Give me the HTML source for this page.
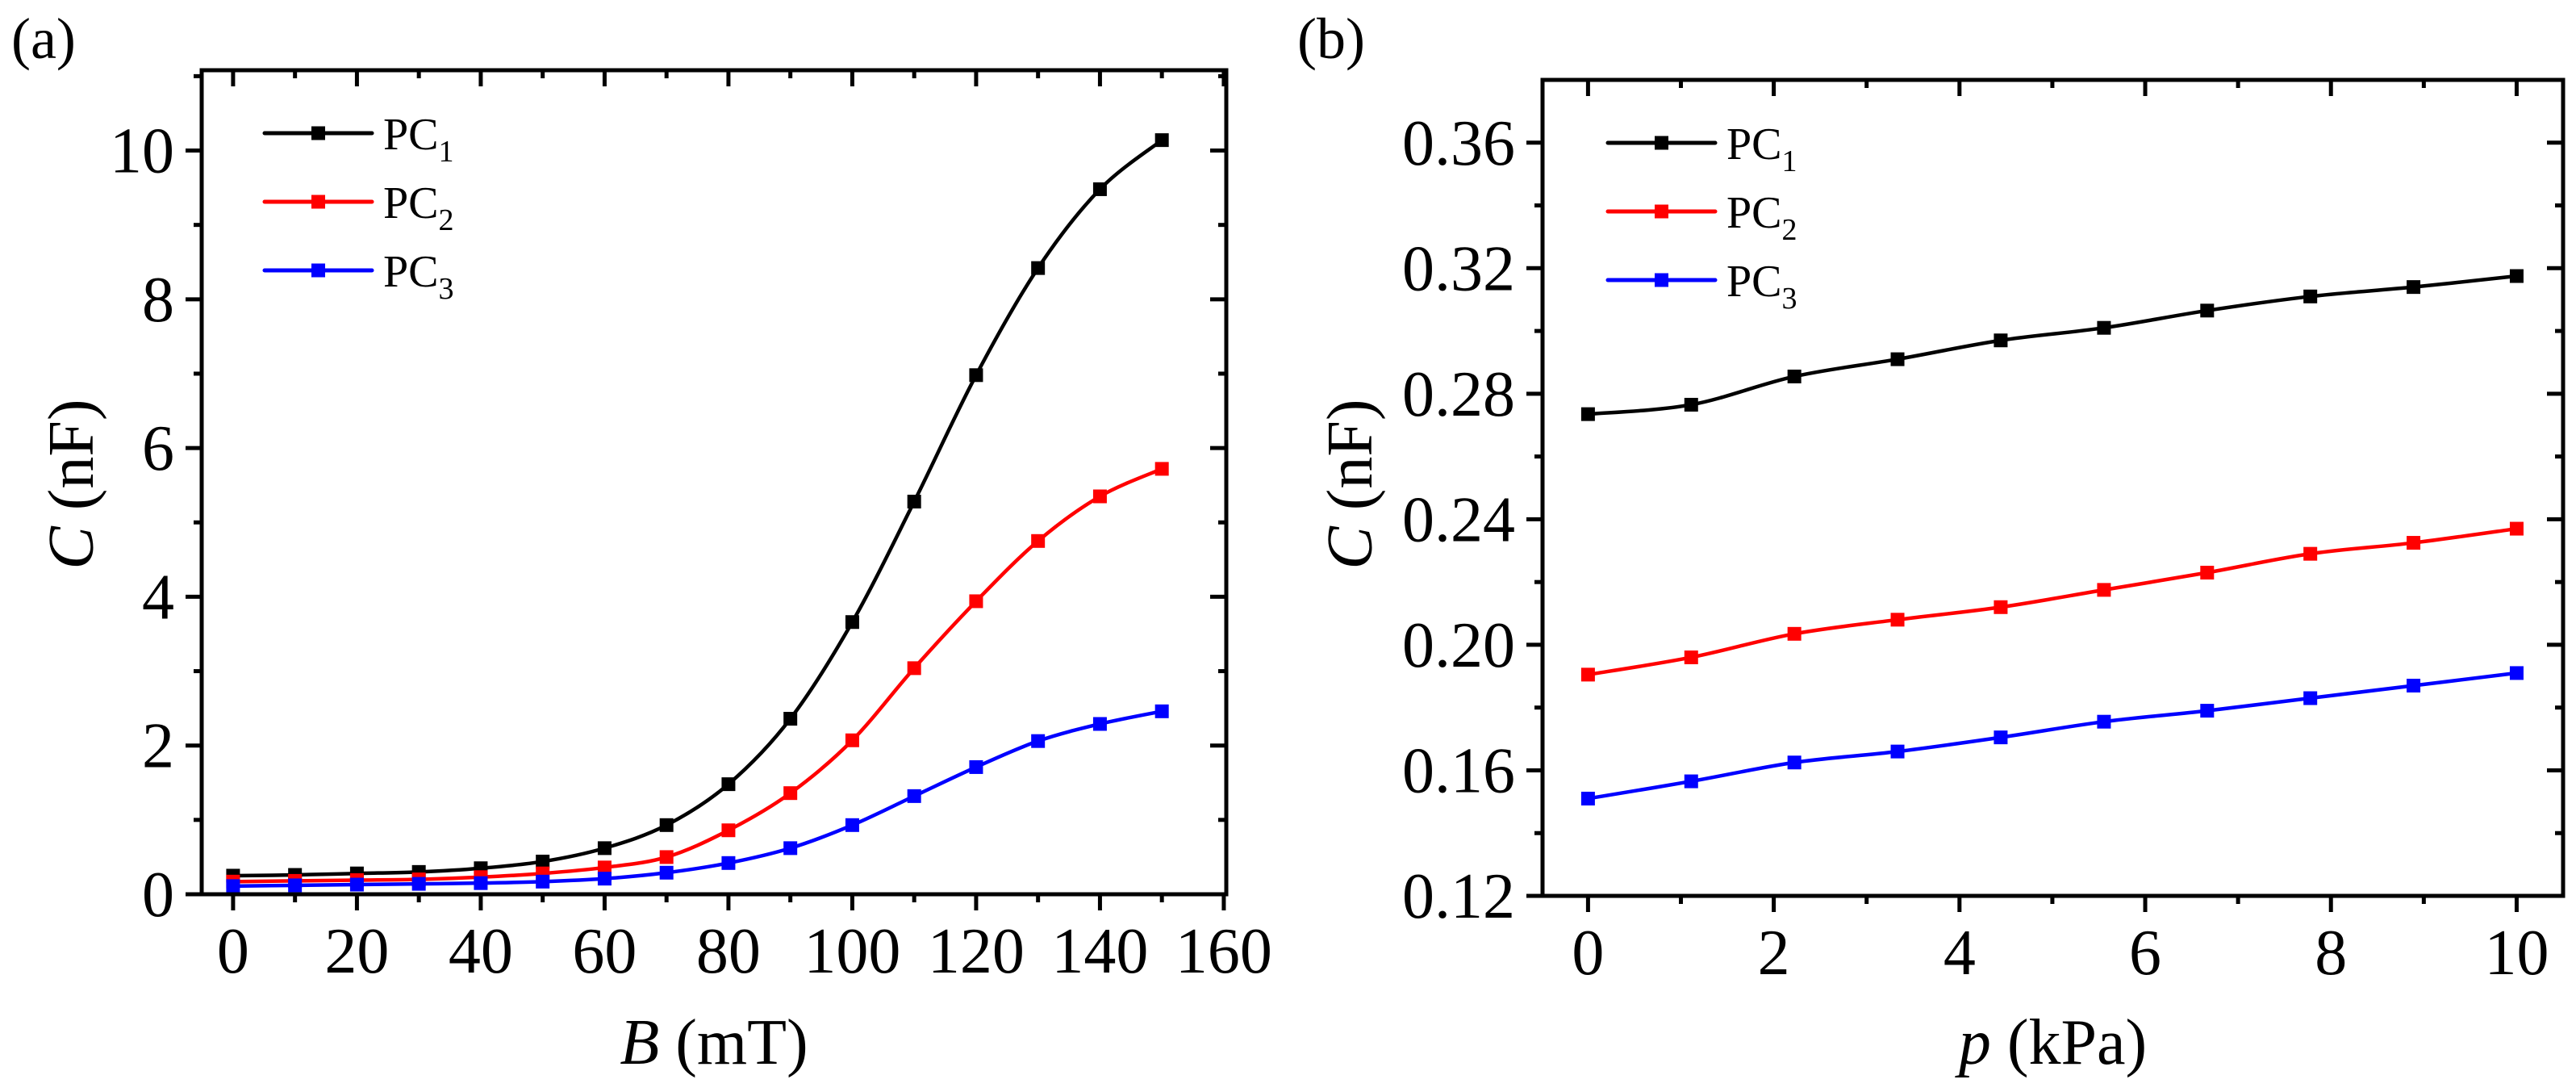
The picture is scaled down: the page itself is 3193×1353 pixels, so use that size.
<!DOCTYPE html>
<html><head><meta charset="utf-8">
<style>
html,body{margin:0;padding:0;background:#fff;}
svg{display:block;font-family:"Liberation Serif",serif;}
</style></head>
<body>
<svg id="fig" width="3193" height="1353" viewBox="0 0 3193 1353" xmlns="http://www.w3.org/2000/svg"></svg>
<script>
// Panel (a) data
const bCategories = [0,10,20,30,40,50,60,70,80,90,100,110,120,130,140,150];
const aPC1 = [0.25,0.26,0.28,0.30,0.35,0.44,0.62,0.93,1.48,2.36,3.66,5.28,6.98,8.42,9.48,10.14];
const aPC2 = [0.17,0.18,0.19,0.20,0.23,0.28,0.36,0.50,0.86,1.36,2.07,3.04,3.94,4.75,5.35,5.72];
const aPC3 = [0.11,0.12,0.13,0.14,0.15,0.17,0.21,0.29,0.42,0.62,0.93,1.32,1.71,2.06,2.29,2.46];
const aXTicks = [0,20,40,60,80,100,120,140,160];
const aYTicks = [0,2,4,6,8,10];
// Panel (b) data
const pCategories = [0,1.111,2.222,3.333,4.444,5.556,6.667,7.778,8.889,10];
const bPC1 = [0.2735,0.2765,0.2855,0.291,0.297,0.301,0.3065,0.311,0.314,0.3175];
const bPC2 = [0.1905,0.196,0.2035,0.208,0.212,0.2175,0.223,0.229,0.2325,0.237];
const bPC3 = [0.151,0.1565,0.1625,0.166,0.1705,0.1755,0.179,0.183,0.187,0.191];
const bXTicks = [0,2,4,6,8,10];
const bYTicks = [0.12,0.16,0.20,0.24,0.28,0.32,0.36];
const bYLabels = ["0.12","0.16","0.20","0.24","0.28","0.32","0.36"];
const seriesNames = ["PC1","PC2","PC3"];
const seriesColors = ["#000000","#ff0000","#0000ff"];

const NS="http://www.w3.org/2000/svg";
const svg=document.getElementById('fig');
function mk(tag,attrs,parent){const e=document.createElementNS(NS,tag);for(const k in attrs)e.setAttribute(k,attrs[k]);(parent||svg).appendChild(e);return e;}

function spline(pts){
  let d=`M${pts[0][0]},${pts[0][1]}`;
  for(let i=0;i<pts.length-1;i++){
    const p0=pts[Math.max(0,i-1)],p1=pts[i],p2=pts[i+1],p3=pts[Math.min(pts.length-1,i+2)];
    const c1=[p1[0]+(p2[0]-p0[0])/6,p1[1]+(p2[1]-p0[1])/6];
    const c2=[p2[0]-(p3[0]-p1[0])/6,p2[1]-(p3[1]-p1[1])/6];
    d+=` C${c1[0]},${c1[1]} ${c2[0]},${c2[1]} ${p2[0]},${p2[1]}`;
  }
  return d;
}

function panel(cfg){
  const {L,R,T,B,x0,x1,y0,y1}=cfg;
  const sx=v=>L+(v-x0)/(x1-x0)*(R-L);
  const sy=v=>B-(v-y0)/(y1-y0)*(B-T);
  const g=mk('g',{});
  
  
  // series
  cfg.series.forEach((s,si)=>{
    const pts=cfg.xs.map((x,i)=>[sx(x),sy(s[i])]);
    const p=mk('path',{d:spline(pts),fill:'none',stroke:seriesColors[si],'stroke-width':4.5,'stroke-linejoin':'round'},g);
    
    
    pts.forEach(pt=>{
      const r=mk('rect',{x:pt[0]-8.5,y:pt[1]-8.5,width:17,height:17,fill:seriesColors[si]},g);
      
      
    });
  });
  // frame
  const f=mk('rect',{x:L,y:T,width:R-L,height:B-T,fill:'none',stroke:'#000','stroke-width':5},g);
  
  
  // x ticks
  cfg.xTicks.forEach((v,i)=>{
    const x=sx(v);
    mk('line',{x1:x,y1:B,x2:x,y2:B+20,stroke:'#000','stroke-width':5},g);
    mk('line',{x1:x,y1:T,x2:x,y2:T+20,stroke:'#000','stroke-width':5},g);
    const t=mk('text',{x:x,y:B+97,'font-size':80,'text-anchor':'middle'},g);
    t.textContent=String(v);
    
    
    if(i<cfg.xTicks.length-1){
      const m=sx((v+cfg.xTicks[i+1])/2);
      mk('line',{x1:m,y1:B,x2:m,y2:B+10,stroke:'#000','stroke-width':5},g);
      mk('line',{x1:m,y1:T,x2:m,y2:T+10,stroke:'#000','stroke-width':5},g);
    }
  });
  cfg.yTicks.forEach((v,i)=>{
    const y=sy(v);
    mk('line',{x1:L,y1:y,x2:L-20,y2:y,stroke:'#000','stroke-width':5},g);
    mk('line',{x1:R,y1:y,x2:R-20,y2:y,stroke:'#000','stroke-width':5},g);
    const t=mk('text',{x:L-34,y:y+27,'font-size':80,'text-anchor':'end'},g);
    t.textContent=cfg.yLabels[i];
    
    
    const nxt=i<cfg.yTicks.length-1?cfg.yTicks[i+1]:v+(v-cfg.yTicks[i-1]);
    const m=sy((v+nxt)/2);
    if((v+nxt)/2<y1){
      mk('line',{x1:L,y1:m,x2:L-10,y2:m,stroke:'#000','stroke-width':5},g);
      mk('line',{x1:R,y1:m,x2:R-10,y2:m,stroke:'#000','stroke-width':5},g);
    }
  });
  // legend
  seriesNames.forEach((n,i)=>{
    const ly=cfg.legY+i*85;
    const lg=mk('g',{},g);
    
    
    mk('line',{x1:cfg.legX,y1:ly,x2:cfg.legX+133,y2:ly,stroke:seriesColors[i],'stroke-width':5,'stroke-linecap':'round'},lg);
    mk('rect',{x:cfg.legX+58,y:ly-8.5,width:17,height:17,fill:seriesColors[i]},lg);
    const t=mk('text',{x:cfg.legX+147,y:ly+20,'font-size':56},lg);
    t.innerHTML='PC<tspan font-size="38" dy="15">'+(i+1)+'</tspan>';
  });
  // axis titles
  const xt=mk('text',{x:(L+R)/2,y:1318,'font-size':80,'text-anchor':'middle'},g);
  xt.innerHTML='<tspan font-style="italic">'+cfg.xVar+'</tspan> ('+cfg.xUnit+')';
  
  
  const yt=mk('text',{x:0,y:0,'font-size':80,'text-anchor':'middle',transform:`translate(${cfg.yTitleX},600) rotate(-90)`},g);
  yt.innerHTML='<tspan font-style="italic">C</tspan> (nF)';
  
  
  const pl=mk('text',{x:cfg.panelX,y:72,'font-size':72},g);
  pl.textContent=cfg.label;
  
  
}

panel({name:'panel-a',L:250,R:1520,T:87,B:1108,x0:-5.07,x1:160.4,y0:0,y1:11.08,
  xs:bCategories,series:[aPC1,aPC2,aPC3],xTicks:aXTicks,yTicks:aYTicks,yLabels:aYTicks.map(String),
  legX:328,legY:165,xVar:'B',xUnit:'mT',yTitleX:115,panelX:14,label:'(a)'});
panel({name:'panel-b',L:1912,R:3177,T:99,B:1110,x0:-0.49,x1:10.5,y0:0.12,y1:0.38,
  xs:pCategories,series:[bPC1,bPC2,bPC3],xTicks:bXTicks,yTicks:bYTicks,yLabels:bYLabels,
  legX:1993,legY:177,xVar:'p',xUnit:'kPa',yTitleX:1700,panelX:1608,label:'(b)'});
</script>
</body></html>
